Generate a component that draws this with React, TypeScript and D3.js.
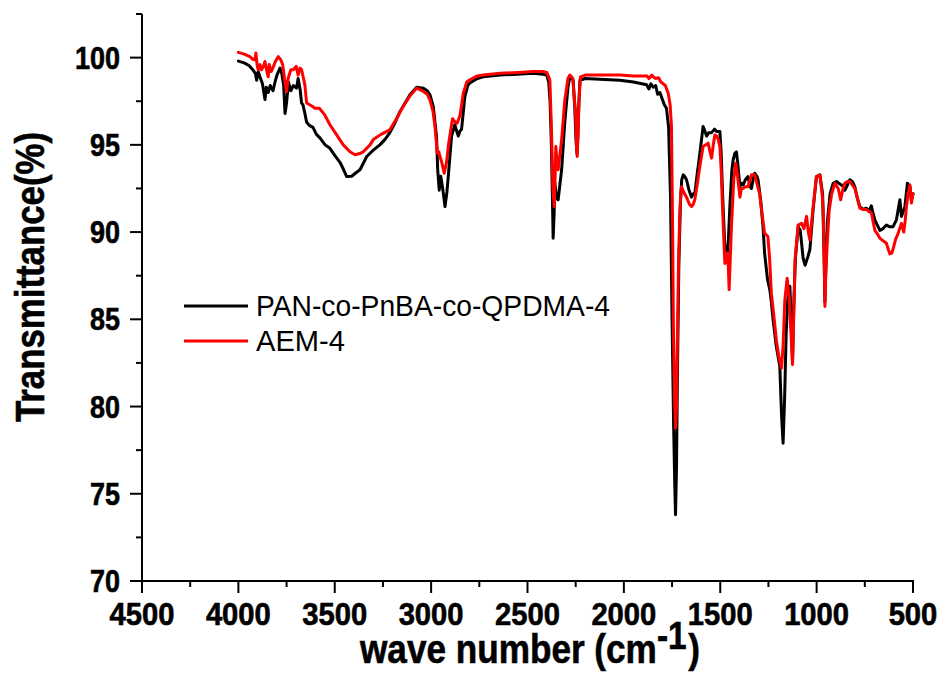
import React from "react";
import * as d3 from "d3";

const xTickValues = [4500, 4000, 3500, 3000, 2500, 2000, 1500, 1000, 500];
const xMinorValues = [4250, 3750, 3250, 2750, 2250, 1750, 1250, 750];
const yTickValues = [70, 75, 80, 85, 90, 95, 100];
const yMinorValues = [72.5, 77.5, 82.5, 87.5, 92.5, 97.5, 102.5];

const seriesNames = ["PAN-co-PnBA-co-QPDMA-4", "AEM-4"];
const seriesColors = ["#000000", "#ff0000"];

// [wavenumber (cm-1), transmittance (%)]
const panData: [number, number][] = [
  [4000, 99.8], [3970, 99.7], [3945, 99.55], [3925, 99.3], [3912, 99.1], [3905, 98.7], [3897, 99.2],
  [3888, 98.9], [3875, 98.5], [3862, 97.6], [3855, 98.3], [3845, 98.0], [3835, 98.4], [3820, 98.1],
  [3810, 98.6], [3800, 99.0], [3784, 99.4], [3775, 99.1], [3765, 98.4], [3758, 96.8], [3750, 97.4],
  [3740, 98.6], [3728, 98.1], [3715, 98.4], [3698, 98.25], [3690, 98.8], [3680, 98.2], [3672, 97.4],
  [3665, 97.3], [3655, 96.8], [3646, 96.3], [3630, 96.1], [3613, 96.0], [3595, 95.6], [3577, 95.4],
  [3550, 95.0], [3525, 94.8], [3500, 94.4], [3473, 94.0], [3455, 93.6], [3438, 93.18], [3412, 93.2],
  [3390, 93.4], [3369, 93.57], [3334, 94.33], [3300, 94.7], [3266, 95.0], [3240, 95.3], [3214, 95.7],
  [3190, 96.2], [3162, 96.9], [3135, 97.4], [3110, 97.87], [3075, 98.3], [3042, 98.25], [3020, 98.1],
  [3006, 97.87], [2989, 97.2], [2972, 95.5], [2966, 93.6], [2958, 92.4], [2950, 93.2], [2940, 92.5],
  [2928, 91.46], [2918, 92.3], [2911, 93.2], [2894, 95.5], [2877, 96.15], [2865, 95.7], [2859, 95.5],
  [2850, 95.8], [2842, 95.9], [2825, 97.77], [2810, 98.4], [2799, 98.54], [2760, 98.8], [2730, 98.9],
  [2643, 99.0], [2550, 99.05], [2472, 99.1], [2420, 99.05], [2400, 99.0], [2390, 98.6], [2383, 97.5],
  [2376, 95.0], [2370, 91.5], [2367, 89.65], [2362, 91.0], [2358, 92.8], [2350, 92.0], [2341, 91.85],
  [2323, 93.57], [2306, 96.4], [2290, 98.3], [2280, 98.9], [2263, 98.7], [2255, 97.2], [2248, 95.2],
  [2243, 94.5], [2239, 95.5], [2233, 97.5], [2228, 98.7], [2200, 98.8], [2100, 98.75], [2021, 98.7],
  [1950, 98.6], [1882, 98.44], [1870, 98.2], [1860, 98.5], [1848, 98.3], [1835, 98.4], [1825, 97.9],
  [1813, 98.0], [1800, 97.6], [1790, 97.3], [1779, 97.1], [1768, 96.0], [1758, 92.0], [1750, 85.0],
  [1742, 79.0], [1736, 75.5], [1732, 73.8], [1727, 76.5], [1722, 82.0], [1715, 88.0], [1707, 91.5],
  [1700, 93.0], [1692, 93.28], [1685, 93.2], [1675, 93.0], [1662, 92.4], [1649, 92.0], [1640, 92.2],
  [1632, 92.2], [1620, 93.3], [1606, 94.5], [1589, 96.05], [1580, 95.8], [1571, 95.5], [1560, 95.7],
  [1545, 95.7], [1530, 95.9], [1519, 95.77], [1502, 95.77], [1495, 94.5], [1488, 92.2], [1476, 89.08],
  [1470, 88.9], [1464, 88.8], [1458, 89.5], [1450, 91.5], [1440, 93.5], [1433, 94.14], [1425, 94.5],
  [1416, 94.6], [1408, 93.8], [1398, 92.6], [1390, 92.8], [1381, 92.7], [1370, 93.0], [1356, 93.18],
  [1345, 92.6], [1338, 92.5], [1330, 93.0], [1321, 93.37], [1310, 93.2], [1304, 93.0], [1290, 91.8],
  [1278, 90.3], [1270, 88.8], [1264, 88.2], [1255, 87.3], [1243, 86.7], [1235, 86.0], [1226, 85.0],
  [1210, 83.5], [1191, 82.3], [1182, 79.5], [1174, 77.9], [1166, 80.5], [1158, 84.2], [1150, 86.1],
  [1139, 86.9], [1132, 85.0], [1125, 82.6], [1118, 86.0], [1110, 88.5], [1096, 90.3], [1085, 90.1],
  [1070, 88.5], [1060, 88.1], [1057, 88.2], [1045, 88.6], [1035, 89.0], [1018, 91.3], [1001, 93.18],
  [983, 93.28], [969, 92.2], [962, 89.0], [957, 86.0], [952, 88.0], [945, 90.5], [930, 92.2],
  [914, 92.8], [897, 92.9], [885, 92.8], [871, 92.7], [860, 92.6], [854, 92.4], [840, 92.7],
  [828, 93.0], [815, 92.9], [802, 92.6], [790, 92.0], [776, 91.46], [760, 91.3], [742, 91.37],
  [730, 91.2], [716, 91.5], [710, 91.2], [698, 90.7], [685, 90.4], [672, 90.1], [655, 90.2],
  [638, 90.4], [620, 90.3], [604, 90.3], [586, 90.7], [568, 91.85], [560, 90.9], [550, 91.2],
  [542, 91.46], [529, 92.8], [516, 92.6], [508, 91.85], [500, 92.2],
];

const aemData: [number, number][] = [
  [4000, 100.3], [3970, 100.2], [3940, 100.06], [3925, 99.9], [3914, 99.87], [3909, 100.26], [3903, 99.6],
  [3897, 99.3], [3888, 99.6], [3880, 99.3], [3870, 99.5], [3862, 99.78], [3850, 99.1], [3845, 98.9],
  [3840, 99.6], [3830, 99.2], [3818, 99.5], [3808, 99.78], [3793, 100.06], [3780, 99.87], [3770, 99.6],
  [3760, 98.73], [3750, 98.06], [3742, 98.8], [3728, 99.3], [3715, 99.3], [3700, 99.5], [3690, 99.0],
  [3680, 99.4], [3672, 99.3], [3662, 98.8], [3655, 98.44], [3646, 97.4], [3630, 97.3], [3615, 97.2],
  [3603, 97.1], [3580, 97.1], [3565, 96.9], [3551, 96.7], [3525, 96.15], [3490, 95.57], [3456, 95.0],
  [3421, 94.6], [3395, 94.43], [3370, 94.5], [3352, 94.6], [3317, 95.0], [3300, 95.3], [3260, 95.6],
  [3214, 95.86], [3180, 96.5], [3145, 97.2], [3110, 97.8], [3075, 98.25], [3040, 98.06], [3020, 97.9],
  [3006, 97.58], [2990, 96.9], [2980, 96.05], [2968, 94.52], [2960, 94.6], [2954, 94.33], [2945, 94.0],
  [2932, 93.37], [2920, 94.0], [2910, 95.0], [2899, 95.8], [2889, 96.5], [2875, 96.3], [2865, 96.24],
  [2850, 96.7], [2833, 97.96], [2815, 98.6], [2799, 98.73], [2760, 98.95], [2730, 99.0], [2643, 99.1],
  [2550, 99.15], [2472, 99.2], [2420, 99.2], [2400, 99.15], [2390, 98.9], [2384, 98.7], [2376, 96.0],
  [2368, 92.5], [2361, 91.46], [2356, 93.5], [2353, 94.9], [2347, 94.0], [2341, 93.57], [2323, 95.3],
  [2306, 97.6], [2290, 98.8], [2280, 99.0], [2265, 98.8], [2256, 97.5], [2251, 97.0], [2246, 95.0],
  [2242, 94.33], [2238, 95.5], [2233, 97.5], [2225, 98.9], [2200, 99.0], [2100, 99.0], [2021, 99.0],
  [1950, 98.95], [1880, 98.95], [1870, 98.8], [1855, 99.0], [1848, 98.9], [1835, 98.8], [1820, 98.85],
  [1808, 98.6], [1796, 98.5], [1785, 98.4], [1770, 97.96], [1760, 97.3], [1753, 96.05], [1747, 90.0],
  [1743, 84.5], [1737, 80.5], [1732, 78.76], [1727, 80.0], [1722, 84.0], [1716, 88.5], [1710, 91.0],
  [1705, 92.2], [1701, 92.6], [1690, 92.3], [1675, 92.0], [1660, 91.6], [1649, 91.46], [1640, 91.6],
  [1632, 91.85], [1620, 92.7], [1606, 93.76], [1589, 94.9], [1575, 95.0], [1563, 95.1], [1555, 94.7],
  [1545, 94.24], [1536, 95.0], [1528, 95.57], [1518, 95.5], [1510, 95.3], [1502, 94.9], [1495, 93.5],
  [1488, 91.3], [1476, 88.2], [1470, 88.4], [1464, 88.8], [1458, 88.0], [1454, 86.7], [1448, 88.5],
  [1442, 90.3], [1430, 93.0], [1420, 93.95], [1410, 93.2], [1398, 92.0], [1390, 92.5], [1381, 92.5],
  [1370, 92.6], [1356, 92.6], [1345, 93.0], [1338, 93.28], [1321, 93.28], [1310, 92.8], [1296, 92.2],
  [1285, 91.2], [1270, 89.94], [1253, 89.75], [1244, 88.5], [1235, 86.5], [1220, 85.0], [1209, 83.8],
  [1195, 82.8], [1182, 82.2], [1174, 83.5], [1165, 86.1], [1153, 87.36], [1142, 86.2], [1132, 84.0],
  [1125, 82.4], [1118, 85.5], [1112, 88.4], [1096, 90.4], [1078, 90.5], [1066, 90.2], [1052, 90.9],
  [1043, 90.0], [1035, 89.55], [1018, 91.46], [1001, 93.18], [983, 93.28], [970, 92.0], [966, 91.3],
  [960, 88.0], [957, 85.73], [953, 87.5], [945, 89.36], [935, 91.2], [922, 92.2], [905, 92.8],
  [888, 92.5], [875, 91.85], [865, 92.4], [854, 92.8], [840, 92.9], [828, 92.9], [815, 92.7],
  [802, 92.5], [790, 92.0], [776, 91.37], [760, 91.3], [742, 91.3], [730, 91.2], [716, 91.1],
  [698, 90.1], [685, 89.9], [672, 89.65], [655, 89.5], [638, 89.36], [628, 89.0], [620, 88.75],
  [610, 88.8], [604, 89.0], [590, 89.6], [578, 89.9], [560, 90.5], [548, 90.0], [541, 90.6],
  [534, 91.46], [525, 92.2], [516, 92.7], [508, 91.66], [500, 92.2],
];

const FONT = "'Liberation Sans', Arial, Helvetica, sans-serif";

export default function App() {
  const width = 945;
  const height = 675;
  const x = d3.scaleLinear().domain([4500, 500]).range([142, 913]);
  const y = d3.scaleLinear().domain([70, 102.5]).range([581, 14]);
  const line = d3
    .line<[number, number]>()
    .x((d) => x(d[0]))
    .y((d) => y(d[1]))
    .curve(d3.curveLinear);

  const series = [panData, aemData];

  return (
    <svg width={width} height={height} style={{ position: "absolute", left: 0, top: 0, background: "#fff" }}>
      <rect x={0} y={0} width={width} height={height} fill="#fff" />
      {/* data */}
      {series.map((s, i) => (
        <path
          key={i}
          d={line(s) || ""}
          fill="none"
          stroke={seriesColors[i]}
          strokeWidth={3}
          strokeLinejoin="round"
          strokeLinecap="round"
        />
      ))}
      {/* axes */}
      <g stroke="#000" strokeWidth={2} fill="none">
        <line x1={142} x2={142} y1={y(102.5)} y2={y(70) + 1} />
        <line x1={141} x2={x(500) + 1} y1={581} y2={581} />
        {yTickValues.map((v) => (
          <line key={"ym" + v} x1={130} x2={142} y1={y(v)} y2={y(v)} />
        ))}
        {yMinorValues.map((v) => (
          <line key={"yn" + v} x1={136} x2={142} y1={y(v)} y2={y(v)} />
        ))}
        {xTickValues.map((v) => (
          <line key={"xm" + v} x1={x(v)} x2={x(v)} y1={581} y2={593} />
        ))}
        {xMinorValues.map((v) => (
          <line key={"xn" + v} x1={x(v)} x2={x(v)} y1={581} y2={587} />
        ))}
      </g>
      <g fontFamily={FONT} fontWeight="bold" fontSize={31} fill="#000" stroke="#000" strokeWidth={0.6}>
        {yTickValues.map((v) => (
          <text
            key={"yl" + v}
            x={120}
            y={y(v) + 11}
            textAnchor="end"
            textLength={String(v).length * 15}
            lengthAdjust="spacingAndGlyphs"
          >
            {v}
          </text>
        ))}
        {xTickValues.map((v) => (
          <text
            key={"xl" + v}
            x={x(v)}
            y={625}
            textAnchor="middle"
            textLength={String(v).length * 16.25}
            lengthAdjust="spacingAndGlyphs"
          >
            {v}
          </text>
        ))}
      </g>
      {/* axis titles */}
      <text
        transform={`translate(44,277) rotate(-90)`}
        textAnchor="middle"
        fontFamily={FONT}
        fontWeight="bold"
        fontSize={40}
        stroke="#000"
        strokeWidth={0.6}
        textLength={290}
        lengthAdjust="spacingAndGlyphs"
      >
        Transmittance(%)
      </text>
      <text
        transform="translate(360,663) scale(0.879,1)"
        fontFamily={FONT}
        fontWeight="bold"
        fontSize={40}
        stroke="#000"
        strokeWidth={0.6}
      >
        <tspan>wave number (cm</tspan>
        <tspan dy={-14} fontSize={38}>-1</tspan>
        <tspan dy={14} dx={2}>)</tspan>
      </text>
      {/* legend */}
      <g fontFamily={FONT} fontSize={29} fill="#000">
        {seriesNames.map((name, i) => {
          const ly = i === 0 ? 306 : 341;
          return (
            <g key={name}>
              <line x1={184} x2={248} y1={ly} y2={ly} stroke={seriesColors[i]} strokeWidth={3} />
              <text
                x={256}
                y={ly + 10}
                textLength={i === 0 ? 354 : 89}
                lengthAdjust="spacingAndGlyphs"
              >
                {name}
              </text>
            </g>
          );
        })}
      </g>
    </svg>
  );
}
